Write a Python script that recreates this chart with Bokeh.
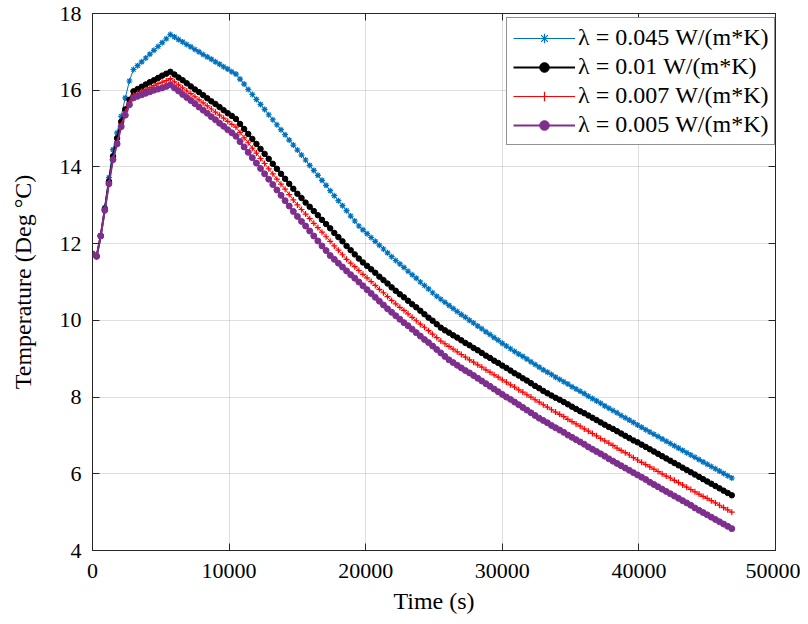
from bokeh.plotting import figure
from bokeh.models import FixedTicker, LinearAxis, CustomJSTickFormatter
from bokeh.embed import file_html
from bokeh.resources import INLINE

# ---------------- data ----------------
time_s = list(range(0, 46801, 300))

temp_045 = [11.73, 11.67, 12.22, 12.95, 13.72, 14.45, 14.89, 15.32, 15.80, 16.24, 16.54,
            16.64, 16.74, 16.84, 16.94, 17.04, 17.14, 17.24, 17.34, 17.45,
            17.39, 17.32, 17.26, 17.19, 17.13, 17.06, 17.00, 16.93, 16.87, 16.81, 16.74, 16.68, 16.61, 16.55, 16.48, 16.42,
            16.29, 16.16, 16.02, 15.89, 15.76, 15.63, 15.50, 15.36, 15.23, 15.10,
            14.97, 14.84, 14.70, 14.57, 14.44, 14.31, 14.18, 14.04, 13.91, 13.78,
            13.65, 13.52, 13.38, 13.25, 13.12, 12.99, 12.86, 12.72, 12.59, 12.46,
            12.36, 12.26, 12.16, 12.06, 11.96, 11.86, 11.76, 11.66, 11.56,
            11.47, 11.38, 11.28, 11.19, 11.10, 11.00, 10.91, 10.82, 10.72, 10.63,
            10.55, 10.47, 10.39, 10.31, 10.23, 10.15,
            10.08, 10.00, 9.93, 9.85, 9.78, 9.70, 9.63, 9.55, 9.48, 9.40,
            9.33, 9.26, 9.19, 9.12, 9.06, 8.99, 8.92, 8.85, 8.78, 8.71,
            8.65, 8.59, 8.52, 8.46, 8.40, 8.34, 8.27, 8.21, 8.15, 8.09,
            8.02, 7.96, 7.90, 7.84, 7.77, 7.71, 7.65, 7.59, 7.52, 7.46,
            7.40, 7.34, 7.27, 7.21,
            7.15, 7.09, 7.03, 6.97, 6.91, 6.85, 6.79, 6.73, 6.67, 6.61,
            6.55, 6.49, 6.43, 6.37, 6.31, 6.25, 6.19, 6.13, 6.07, 6.01,
            5.95, 5.89]

temp_010 = [11.73, 11.67, 12.20, 12.90, 13.62, 14.28, 14.75, 15.18, 15.50, 15.75, 15.97,
            16.03, 16.09, 16.15, 16.21, 16.26, 16.32, 16.38, 16.43, 16.48,
            16.41, 16.33, 16.26, 16.18, 16.10, 16.02, 15.95, 15.87, 15.79, 15.71, 15.64, 15.56, 15.48, 15.40, 15.33, 15.25,
            15.12, 14.99, 14.86, 14.73, 14.60, 14.47, 14.34, 14.21, 14.08, 13.95,
            13.82, 13.69, 13.56, 13.43, 13.30,
            13.19, 13.07, 12.96, 12.85, 12.74, 12.62, 12.51, 12.40, 12.28, 12.17,
            12.06, 11.94, 11.83, 11.72, 11.61,
            11.51, 11.42, 11.33, 11.24, 11.14, 11.05, 10.96, 10.86, 10.77,
            10.68, 10.60, 10.51, 10.42, 10.34, 10.25, 10.16, 10.07, 9.99, 9.90, 9.81,
            9.74, 9.68, 9.61, 9.55, 9.48, 9.41, 9.35, 9.28, 9.22, 9.15, 9.08, 9.02,
            8.95, 8.89, 8.82, 8.76, 8.69, 8.62, 8.56, 8.49, 8.43, 8.36, 8.29, 8.23, 8.16,
            8.10, 8.04, 7.98, 7.93, 7.87, 7.81, 7.75, 7.69, 7.63, 7.58,
            7.52, 7.46, 7.40, 7.34, 7.28, 7.22, 7.17, 7.11, 7.05, 6.99,
            6.93, 6.87, 6.82, 6.76,
            6.70, 6.64, 6.58, 6.52, 6.46, 6.40, 6.34, 6.28, 6.22, 6.16,
            6.10, 6.04, 5.98, 5.92, 5.86, 5.80, 5.74, 5.68, 5.62, 5.56,
            5.50, 5.44]

temp_007 = [11.73, 11.67, 12.20, 12.88, 13.58, 14.22, 14.66, 15.10, 15.44, 15.68, 15.87,
            15.92, 15.97, 16.02, 16.07, 16.12, 16.17, 16.21, 16.25, 16.30,
            16.22, 16.14, 16.06, 15.98, 15.91, 15.83, 15.75, 15.67, 15.59, 15.51, 15.43, 15.35, 15.27, 15.19, 15.11, 15.04,
            14.90, 14.76, 14.63, 14.49, 14.36, 14.22, 14.09, 13.95, 13.82, 13.68,
            13.55, 13.42, 13.28, 13.14, 13.01,
            12.89, 12.77, 12.65, 12.53, 12.42, 12.30, 12.18, 12.06, 11.94, 11.83,
            11.71, 11.59,
            11.49, 11.40, 11.30, 11.20, 11.11, 11.01, 10.91, 10.81, 10.72, 10.62, 10.52,
            10.43, 10.34, 10.26, 10.17, 10.08, 9.99, 9.90, 9.82, 9.73, 9.64, 9.55, 9.46,
            9.39, 9.32, 9.25, 9.18, 9.11, 9.04, 8.97,
            8.91, 8.84, 8.78, 8.71, 8.65, 8.58, 8.52, 8.45, 8.39, 8.32,
            8.26, 8.19, 8.13, 8.06, 8.00, 7.93, 7.87, 7.80,
            7.74, 7.67, 7.61, 7.55, 7.49, 7.42, 7.36, 7.30, 7.24, 7.17,
            7.11, 7.05, 6.99, 6.92, 6.86, 6.80, 6.74, 6.67, 6.61, 6.55,
            6.49, 6.42, 6.36,
            6.30, 6.24, 6.18, 6.12, 6.06, 6.00, 5.94, 5.89, 5.83, 5.77,
            5.71, 5.65, 5.59, 5.53, 5.47, 5.41, 5.36, 5.30, 5.24, 5.18,
            5.12, 5.06, 5.00]

temp_005 = [11.73, 11.67, 12.20, 12.87, 13.56, 14.19, 14.60, 15.05, 15.35, 15.62, 15.80,
            15.84, 15.88, 15.92, 15.96, 16.00, 16.03, 16.06, 16.10, 16.14,
            16.06, 15.98, 15.89, 15.81, 15.73, 15.65, 15.56, 15.48, 15.40, 15.31, 15.23, 15.14, 15.06, 14.97, 14.89, 14.80,
            14.66, 14.52, 14.38, 14.24, 14.10, 13.96, 13.82, 13.68, 13.54, 13.40,
            13.26, 13.12, 12.98, 12.84,
            12.71, 12.58, 12.46, 12.33, 12.20, 12.07, 11.94, 11.82, 11.69,
            11.59, 11.49, 11.39, 11.29, 11.19, 11.10, 11.00, 10.90, 10.80, 10.70,
            10.60, 10.50, 10.40, 10.30, 10.21,
            10.12, 10.03, 9.94, 9.86, 9.77, 9.68, 9.59, 9.50, 9.42, 9.33,
            9.24, 9.15, 9.06, 8.97,
            8.90, 8.83, 8.76, 8.69, 8.63, 8.56, 8.49, 8.42, 8.35, 8.28,
            8.21, 8.14, 8.07, 8.00, 7.94, 7.87, 7.80, 7.73, 7.66, 7.59,
            7.52, 7.45,
            7.39, 7.33, 7.26, 7.20, 7.14, 7.08, 7.01, 6.95, 6.89, 6.83,
            6.77, 6.70, 6.64, 6.58, 6.52, 6.46, 6.39, 6.33,
            6.27, 6.21, 6.15, 6.09, 6.03, 5.97, 5.91, 5.85, 5.78, 5.72,
            5.66, 5.60, 5.54, 5.48, 5.42, 5.36, 5.30, 5.24, 5.18, 5.11,
            5.05, 4.99, 4.93, 4.87, 4.81, 4.75, 4.69, 4.63, 4.57]

labels = ["λ = 0.045 W/(m*K)", "λ = 0.01 W/(m*K)", "λ = 0.007 W/(m*K)", "λ = 0.005 W/(m*K)"]
x_ticks = [0, 10000, 20000, 30000, 40000, 50000]
y_ticks = [4, 6, 8, 10, 12, 14, 16, 18]

# ---------------- figure ----------------
FONT = "Liberation Serif"
AX = "#262626"

p = figure(width=800, height=616, output_backend="svg", toolbar_location=None,
           x_range=(0, 50000), y_range=(4, 18),
           min_border_left=92, min_border_right=25, min_border_top=13, min_border_bottom=66,
           background_fill_color="white", border_fill_color="white")
p.outline_line_color = AX
p.outline_line_width = 1

xt = FixedTicker(ticks=x_ticks)
yt = FixedTicker(ticks=y_ticks)
bottom_ax = p.below[0]
left_ax = p.left[0]
bottom_ax.ticker = xt
left_ax.ticker = yt
p.xgrid.ticker = xt
p.ygrid.ticker = yt
for g in (p.xgrid, p.ygrid):
    g.grid_line_color = AX
    g.grid_line_alpha = 0.15
    g.grid_line_width = 1

blank = CustomJSTickFormatter(code="return '';")
top_ax = LinearAxis(ticker=xt, formatter=blank, major_label_text_font_size="1px", major_label_standoff=0)
right_ax = LinearAxis(ticker=yt, formatter=blank, major_label_text_font_size="1px", major_label_standoff=0)
p.add_layout(top_ax, "above")
p.add_layout(right_ax, "right")

for ax in (bottom_ax, left_ax, top_ax, right_ax):
    ax.axis_line_color = AX
    ax.major_tick_line_color = AX
    ax.major_tick_in = 7
    ax.major_tick_out = 0
    ax.minor_tick_line_color = None

for ax in (bottom_ax, left_ax):
    ax.major_label_text_font = FONT
    ax.major_label_text_color = "black"
    ax.major_label_text_font_size = "22px"
    ax.axis_label_text_font = FONT
    ax.axis_label_text_font_style = "normal"
    ax.axis_label_text_color = "black"
    ax.axis_label_text_font_size = "24px"

bottom_ax.major_label_standoff = 13
left_ax.major_label_standoff = 11
bottom_ax.axis_label = "Time (s)"
bottom_ax.axis_label_standoff = 7
left_ax.axis_label = "Temperature (Deg °C)"
left_ax.axis_label_standoff = 21

# ---------------- series ----------------
p.line(time_s, temp_045, line_color="#0072BD", line_width=1, legend_label=labels[0])
p.scatter(time_s, temp_045, marker="asterisk", size=6, line_color="#0072BD", line_width=1.2,
          legend_label=labels[0])

p.line(time_s, temp_010, line_color="black", line_width=2, legend_label=labels[1])
p.scatter(time_s, temp_010, marker="circle", size=5.5, line_color="black", fill_color="black",
          legend_label=labels[1])

p.line(time_s, temp_007, line_color="#FF0000", line_width=1, legend_label=labels[2])
p.scatter(time_s, temp_007, marker="cross", size=6, line_color="#FF0000", line_width=1.2,
          legend_label=labels[2])

p.line(time_s, temp_005, line_color="#7E2F8E", line_width=2, legend_label=labels[3])
p.scatter(time_s, temp_005, marker="circle", size=6, line_color="#7E2F8E", fill_color="#7E2F8E",
          legend_label=labels[3])

lg = p.legend[0]
lg.location = (414, 405)
lg.label_text_font = FONT
lg.label_text_font_size = "24px"
lg.label_text_color = "black"
lg.glyph_width = 62
lg.glyph_height = 24
lg.label_height = 24
lg.label_standoff = 3
lg.spacing = 2
lg.padding = 6
lg.margin = 0
lg.border_line_color = AX
lg.border_line_width = 1
lg.background_fill_color = "white"
lg.background_fill_alpha = 1

open("out.html", "w").write(file_html(p, INLINE))
